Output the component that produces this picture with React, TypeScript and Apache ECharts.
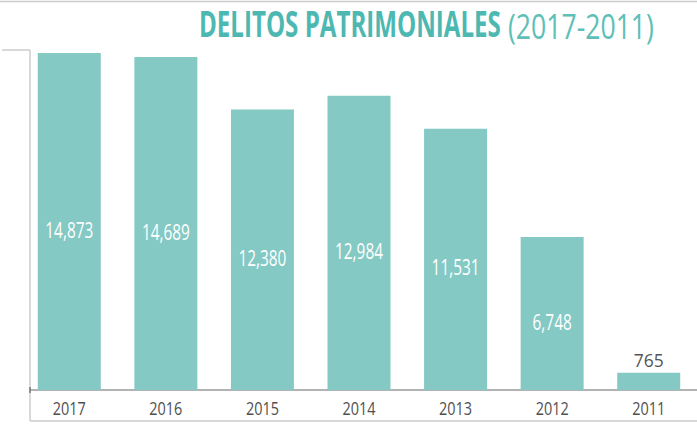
import React, { useEffect, useRef } from "react";
import * as echarts from "echarts";

const categories = ["2017", "2016", "2015", "2014", "2013", "2012", "2011"];
const values = [14873, 14689, 12380, 12984, 11531, 6748, 765];
const titleMain = "DELITOS PATRIMONIALES";
const titleSub = "(2017-2011)";

const FONT = "'Open Sans', 'Liberation Sans', sans-serif";

function measure(text: string, font: string): number {
  const c = document.createElement("canvas").getContext("2d");
  if (!c) return text.length * 10;
  c.font = font;
  return c.measureText(text).width;
}

export default function App() {
  const ref = useRef<HTMLDivElement>(null);
  useEffect(() => {
    if (!ref.current) return;
    const chart = echarts.init(ref.current, undefined, { renderer: "svg" });
    const mainFont = `bold 35px ${FONT}`;
    const subFont = `normal 35px ${FONT}`;
    const mainScale = 302 / measure(titleMain, mainFont);
    const subScale = 146 / measure(titleSub, subFont);

    chart.setOption({
      animation: false,
      backgroundColor: "#ffffff",
      grid: { left: 21, width: 679, top: 50, height: 340 },
      xAxis: {
        type: "category",
        data: categories,
        axisLine: { show: false },
        axisTick: { show: false },
        axisLabel: { show: false },
      },
      yAxis: {
        type: "value",
        min: 0,
        max: 15000,
        show: false,
        splitLine: { show: false },
      },
      series: [
        {
          type: "bar",
          data: values,
          barWidth: 63,
          itemStyle: { color: "#85c9c4" },
        },
        {
          type: "custom",
          data: values.map((v, i) => [i, v]),
          encode: { x: 0, y: 1 },
          z: 5,
          clip: false,
          renderItem: (params: any, api: any) => {
            const idx = api.value(0);
            const v = api.value(1);
            const top = api.coord([idx, v]);
            const base = api.coord([idx, 0]);
            const small = (base[1] - top[1]) < 40;
            const labelText = Number(v).toLocaleString("en-US");
            return {
              type: "group",
              children: [
                {
                  type: "text",
                  x: top[0],
                  y: small ? top[1] - 13 : (top[1] + base[1]) / 2 + 8,
                  scaleX: small ? 0.92 : 0.7,
                  style: {
                    text: labelText,
                    fill: small ? "#555555" : "#ffffff",
                    font: `normal ${small ? 19 : 22}px ${FONT}`,
                    align: "center",
                    verticalAlign: "middle",
                  },
                },
                {
                  type: "text",
                  x: base[0],
                  y: base[1] + 18,
                  scaleX: 0.76,
                  style: {
                    text: categories[idx],
                    fill: "#505050",
                    font: `normal 19px ${FONT}`,
                    align: "center",
                    verticalAlign: "middle",
                  },
                },
              ],
            };
          },
        },
      ],
      graphic: [
        { type: "line", shape: { x1: 0, y1: 1.5, x2: 697, y2: 1.5 }, style: { stroke: "#cccccc", lineWidth: 1.5 } },
        { type: "line", shape: { x1: 2, y1: 50, x2: 30, y2: 50 }, style: { stroke: "#cccccc", lineWidth: 1.5 } },
        { type: "line", shape: { x1: 30, y1: 50, x2: 30, y2: 421 }, style: { stroke: "#cccccc", lineWidth: 1.5 } },
        { type: "line", shape: { x1: 30, y1: 421, x2: 697, y2: 421 }, style: { stroke: "#cccccc", lineWidth: 1.5 } },
        { type: "line", shape: { x1: 30, y1: 390, x2: 697, y2: 390 }, style: { stroke: "#9a9a9a", lineWidth: 1.5 } },
        { type: "line", shape: { x1: 30, y1: 387, x2: 30, y2: 393 }, style: { stroke: "#777777", lineWidth: 1.5 } },
        {
          type: "text",
          x: 199,
          y: 24,
          scaleX: mainScale,
          style: {
            text: titleMain,
            font: mainFont,
            fill: "#4db8b1",
            align: "left",
            verticalAlign: "middle",
          },
        },
        {
          type: "text",
          x: 508,
          y: 25,
          scaleX: subScale,
          style: {
            text: titleSub,
            font: subFont,
            fill: "#5dbfb8",
            align: "left",
            verticalAlign: "middle",
          },
        },
      ],
    });
    return () => chart.dispose();
  }, []);
  return <div ref={ref} style={{ width: 697, height: 424, position: "absolute", left: 0, top: 0 }} />;
}
